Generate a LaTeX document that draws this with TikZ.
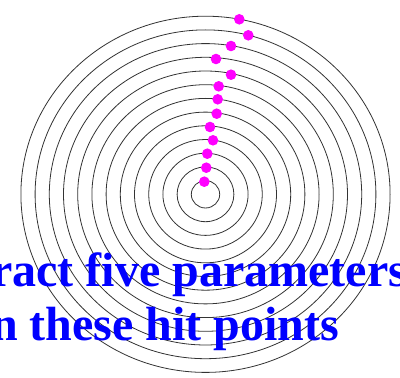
\documentclass[tikz,border=0pt]{standalone}
\usepackage{fontspec}
\setmainfont{Liberation Serif}
\definecolor{hitmag}{RGB}{255,0,255}
\definecolor{txtblue}{RGB}{0,0,255}
\begin{document}
\begin{tikzpicture}[x=1pt,y=1pt,
  ring/.style={draw=black!80, line width=0.8pt},
  hit/.style={circle, fill=hitmag, draw=none, minimum size=10.6pt, inner sep=0pt},
  label/.style={anchor=base west, inner sep=0pt, text=txtblue, font=\fontsize{48}{48}\selectfont\bfseries}]
\useasboundingbox (0,0) rectangle (400,378);
\clip (0,0) rectangle (400,378);
\coordinate (c) at (205.5,183.7);
\foreach \k in {1,...,13} {
  \draw[ring] (c) ellipse [x radius={14.2*\k}, y radius={13.7*\k}];
}
\node[label] (t1) at (-9,91) {ract five parameters};
\node[label] (t2) at (-9,37) {n these hit points};
\foreach \i/\x/\y in {1/239.3/19.3, 2/248.3/35.3, 3/231/46, 4/216/59, 5/231/74.7, 6/218.7/86.3, 7/217.7/99.3, 8/216.7/113.7, 9/210/127, 10/213/140.3, 11/207.3/153.7, 12/206.3/167.7, 13/204.3/181.7} {
  \node[hit] (d\i) at (\x,{378-\y}) {};
}
\end{tikzpicture}
\end{document}
